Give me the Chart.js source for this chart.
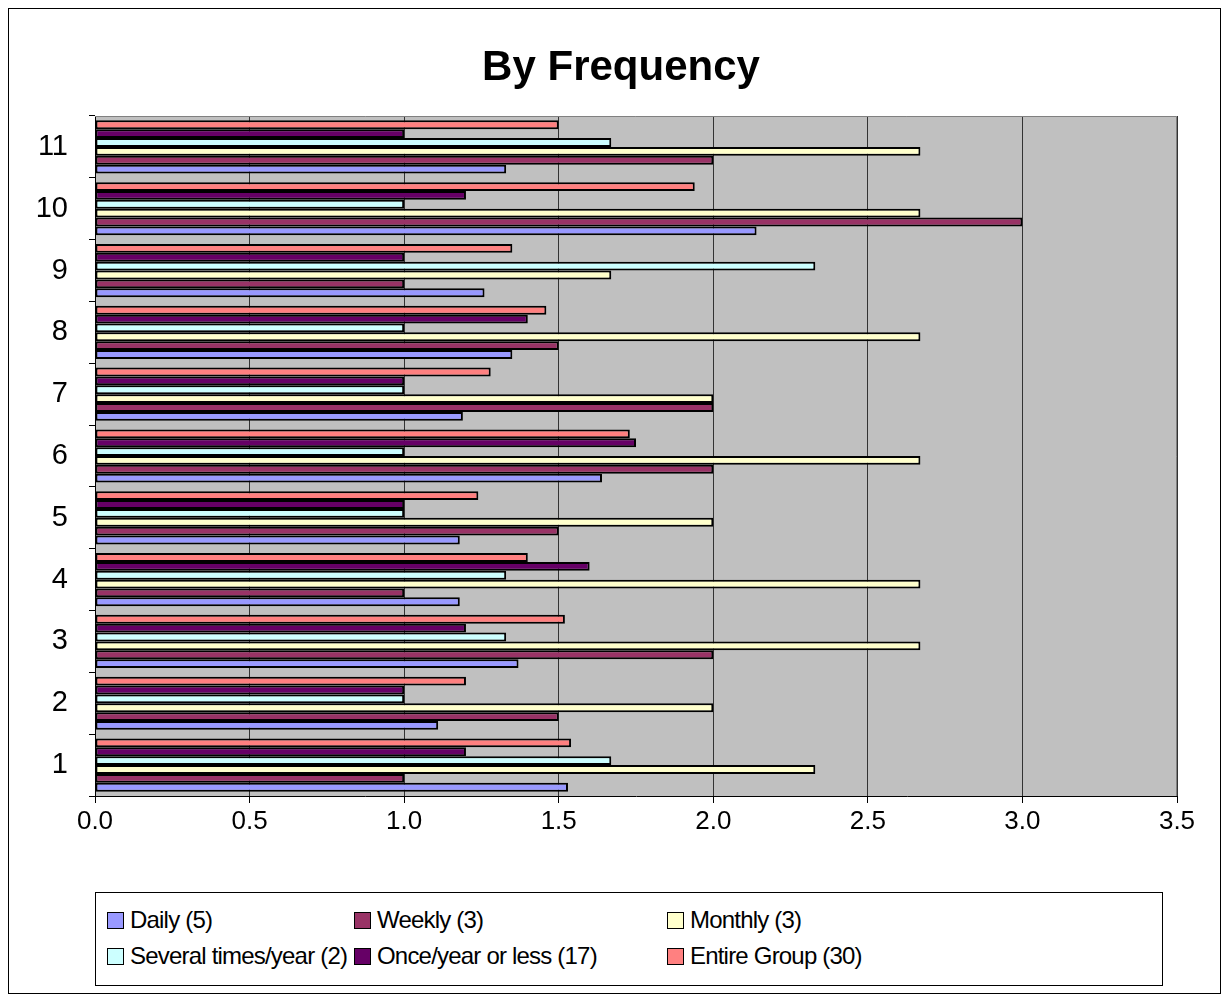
<!DOCTYPE html>
<html>
<head>
<meta charset="utf-8">
<script src="https://cdn.jsdelivr.net/npm/chart.js@4/dist/chart.umd.min.js"></script>
<style>
  body { margin: 0; background: #fff; }
  #wrap { position: relative; width: 1224px; height: 999px; }
  #chart { position: absolute; left: 0; top: 0; }
  #frame { position: absolute; left: 8px; top: 8px; width: 1213px; height: 986px; border: 1px solid #000; box-sizing: border-box; pointer-events: none; }
  #legend {
    position: absolute; left: 95px; top: 892px; width: 1068px; height: 94px;
    border: 1px solid #000; box-sizing: border-box; background: #fff;
    display: grid; grid-template-columns: 247px 313px auto; grid-auto-rows: 36px;
    padding: 9px 0 0 11px;
    font-family: "Liberation Sans", Arial, sans-serif; font-size: 24px; letter-spacing: -0.8px; color: #000;
  }
  #legend .item { display: flex; align-items: center; white-space: nowrap; }
  #legend .box { width: 15px; height: 15px; border: 1px solid #000; margin-right: 6px; flex: none; }
</style>
</head>
<body>
<div id="wrap">
  <canvas id="chart" width="1224" height="999"></canvas>
  <div id="frame"></div>
  <div id="legend"></div>
</div>
<script>
const chartTitle = 'By Frequency';
const categories = ['1', '2', '3', '4', '5', '6', '7', '8', '9', '10', '11'];

const daily   = [1.53, 1.11, 1.37, 1.18, 1.18, 1.64, 1.19, 1.35, 1.26, 2.14, 1.33];
const weekly  = [1.00, 1.50, 2.00, 1.00, 1.50, 2.00, 2.00, 1.50, 1.00, 3.00, 2.00];
const monthly = [2.33, 2.00, 2.67, 2.67, 2.00, 2.67, 2.00, 2.67, 1.67, 2.67, 2.67];
const several = [1.67, 1.00, 1.33, 1.33, 1.00, 1.00, 1.00, 1.00, 2.33, 1.00, 1.67];
const once    = [1.20, 1.00, 1.20, 1.60, 1.00, 1.75, 1.00, 1.40, 1.00, 1.20, 1.00];
const entire  = [1.54, 1.20, 1.52, 1.40, 1.24, 1.73, 1.28, 1.46, 1.35, 1.94, 1.50];

const xTicks = [0, 0.5, 1, 1.5, 2, 2.5, 3, 3.5];

const series = [
  { label: 'Daily (5)', data: daily, color: '#9999FF' },
  { label: 'Weekly (3)', data: weekly, color: '#993366' },
  { label: 'Monthly (3)', data: monthly, color: '#FFFFCC' },
  { label: 'Several times/year (2)', data: several, color: '#CCFFFF' },
  { label: 'Once/year or less (17)', data: once, color: '#660066' },
  { label: 'Entire Group (30)', data: entire, color: '#FF8080' }
];

const FONT = '"Liberation Sans", Arial, sans-serif';

// grey plot background, grey top/right edge of the plot, and the title
const plotArea = {
  id: 'plotArea',
  beforeDraw(chart) {
    const { ctx, chartArea: a } = chart;
    ctx.save();
    ctx.fillStyle = '#C0C0C0';
    ctx.fillRect(a.left, a.top, a.right - a.left, a.bottom - a.top);
    ctx.restore();
  },
  beforeDatasetsDraw(chart) {
    const { ctx, chartArea: a } = chart;
    ctx.save();
    ctx.strokeStyle = '#808080';
    ctx.lineWidth = 1;
    ctx.beginPath();
    ctx.moveTo(a.left, a.top + 0.5);
    ctx.lineTo(a.right - 0.5, a.top + 0.5);
    ctx.lineTo(a.right - 0.5, a.bottom);
    ctx.stroke();
    ctx.restore();
  },
  afterDraw(chart) {
    const ctx = chart.ctx;
    ctx.save();
    ctx.fillStyle = '#000';
    ctx.font = 'bold 42px ' + FONT;
    ctx.textAlign = 'center';
    ctx.textBaseline = 'middle';
    ctx.fillText(chartTitle, 621, 68);
    ctx.restore();
  }
};

// bars are stacked top-down inside a group, so feed the series in reverse
const datasets = series.slice().reverse().map(s => ({
  label: s.label,
  data: s.data,
  backgroundColor: s.color,
  borderColor: '#000',
  borderWidth: 2,
  borderSkipped: false,
  barPercentage: 1.0,
  categoryPercentage: 0.86
}));

new Chart(document.getElementById('chart'), {
  type: 'bar',
  data: { labels: categories, datasets: datasets },
  options: {
    indexAxis: 'y',
    responsive: false,
    animation: false,
    layout: {
      padding: { left: 10, right: 47, top: 116, bottom: 163 }
    },
    scales: {
      x: {
        min: 0,
        max: 3.5,
        afterBuildTicks(scale) {
          scale.ticks = xTicks.map(v => ({ value: v }));
        },
        afterFit(scale) { scale.height = 40; },
        grid: { color: '#333', lineWidth: 1, tickLength: 7, tickColor: '#000' },
        border: { color: '#000', width: 1 },
        ticks: {
          color: '#000',
          padding: 3,
          font: { family: FONT, size: 26 },
          callback: v => Number(v).toFixed(1)
        }
      },
      y: {
        reverse: true,
        afterFit(scale) { scale.width = 85; },
        grid: { offset: true, drawOnChartArea: false, tickLength: 6, color: '#000' },
        border: { color: '#000', width: 1 },
        ticks: {
          color: '#000',
          padding: 21,
          font: { family: FONT, size: 29 }
        }
      }
    },
    plugins: {
      legend: { display: false },
      tooltip: { enabled: false },
      title: { display: false }
    }
  },
  plugins: [plotArea]
});

// legend in the order the series are listed, three per row
const legend = document.getElementById('legend');
series.forEach(s => {
  const item = document.createElement('div');
  item.className = 'item';
  const box = document.createElement('span');
  box.className = 'box';
  box.style.background = s.color;
  const txt = document.createElement('span');
  txt.textContent = s.label;
  item.appendChild(box);
  item.appendChild(txt);
  legend.appendChild(item);
});
</script>
</body>
</html>
